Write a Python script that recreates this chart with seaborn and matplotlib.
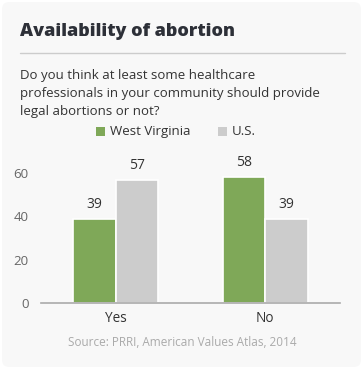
import matplotlib
matplotlib.use("Agg")
import matplotlib.pyplot as plt
import seaborn as sns
import pandas as pd
from matplotlib.patches import FancyBboxPatch, Rectangle
from matplotlib.lines import Line2D

categories = ["Yes", "No"]
series = ["West Virginia", "U.S."]
west_virginia = [39, 58]
us = [57, 39]
yticks = [0, 20, 40, 60]
colors = ["#7fa858", "#cccccc"]

df = pd.DataFrame({
    "answer": categories * 2,
    "region": [series[0]] * 2 + [series[1]] * 2,
    "value": west_virginia + us,
})

sns.set_theme(style="white")
plt.rcParams["font.family"] = ["Open Sans", "DejaVu Sans"]

W, H = 363, 369
fig = plt.figure(figsize=(W / 100, H / 100), dpi=100)
fig.patch.set_facecolor("white")
bg = FancyBboxPatch((2 / W, 2 / H), (W - 4) / W, (H - 4) / H,
                    boxstyle="round,pad=0,rounding_size=0.02",
                    transform=fig.transFigure, facecolor="#f8f8f8",
                    edgecolor="none", zorder=-10)
fig.patches.append(bg)

ax = fig.add_axes([41 / W, 1 - 303 / H, 299 / W, (303 - 173) / H * 70 / 60])
ax.set_facecolor("none")
ax.set_zorder(5)
sns.barplot(data=df, x="answer", y="value", hue="region", order=categories,
            hue_order=series, palette=colors, width=0.57, ax=ax,
            edgecolor="white", linewidth=1.2, legend=False, saturation=1)
ax.set_ylim(0, 70)
ax.set_xlim(-0.5, 1.5)
ax.set_yticks(yticks)
ax.set_yticklabels([str(t) for t in yticks], color="#666666", fontsize=9.5)
ax.tick_params(axis="y", length=0, pad=9)
ax.tick_params(axis="x", length=0, pad=6, labelsize=9.8, labelcolor="#333333")
ax.set_xlabel("")
ax.set_ylabel("")
for s in ["top", "right", "left"]:
    ax.spines[s].set_visible(False)
ax.spines["bottom"].set_color("#aaaaaa")
ax.spines["bottom"].set_linewidth(1.2)

for cont in ax.containers:
    ax.bar_label(cont, padding=5, fontsize=10, color="#333333")

fig.text(20 / W, 1 - 31 / H, "Availability of abortion", fontsize=13,
         fontweight="heavy", color="#2d3038", va="center", ha="left")
fig.add_artist(Line2D([20 / W, 345 / W], [1 - 53 / H, 1 - 53 / H],
                      transform=fig.transFigure, color="#cccccc", lw=1))
subtitle = ["Do you think at least some healthcare",
            "professionals in your community should provide",
            "legal abortions or not?"]
for i, line in enumerate(subtitle):
    fig.text(20 / W, 1 - (75 + 18 * i) / H, line, fontsize=9.5,
             color="#333333", va="center", ha="left")

# legend
leg_y = 1 - 131 / H
for x0, label, c in [(96, series[0], colors[0]), (218, series[1], colors[1])]:
    fig.add_artist(Rectangle((x0 / W, leg_y - 4.5 / H), 9 / W, 9 / H,
                             transform=fig.transFigure, facecolor=c,
                             edgecolor="none"))
    fig.text((x0 + 14) / W, leg_y, label, fontsize=9.5, color="#333333",
             va="center", ha="left")

fig.text(182 / W, 1 - 342 / H, "Source: PRRI, American Values Atlas, 2014",
         fontsize=8.5, color="#aaaaaa", va="center", ha="center")

fig.savefig("out.png", dpi=100, facecolor="white")
